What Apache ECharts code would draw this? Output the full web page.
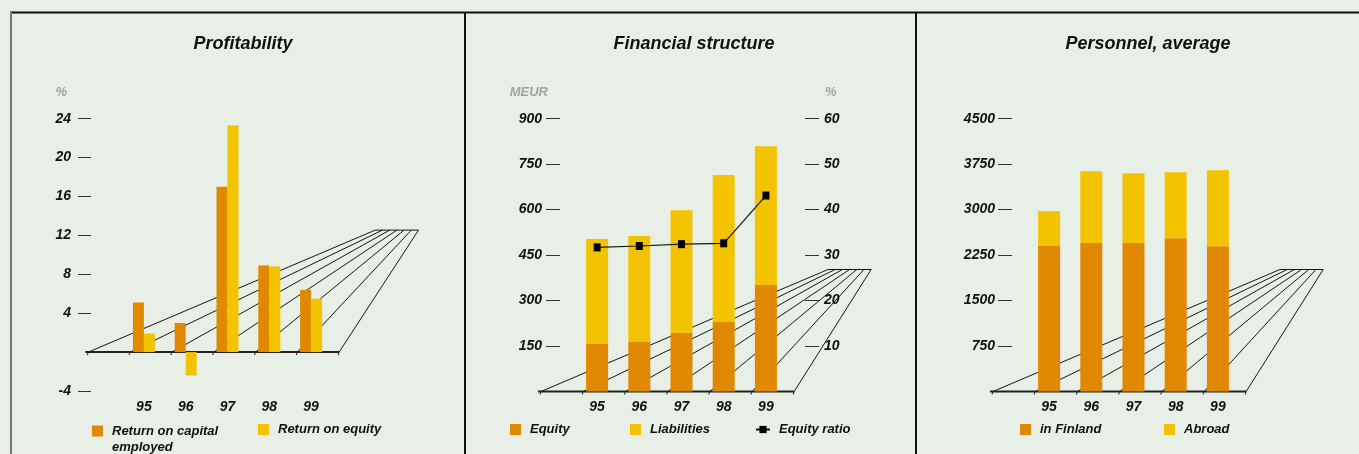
<!DOCTYPE html>
<html>
<head>
<meta charset="utf-8">
<script src="https://cdn.jsdelivr.net/npm/echarts@6/dist/echarts.min.js"></script>
<style>
html,body{margin:0;padding:0;background:#e7efe6;}
#chart{width:1359px;height:454px;}
</style>
</head>
<body>
<div id="chart"></div>
<script>
// ---- data ----
const categories = ['95', '96', '97', '98', '99'];
const returnOnCapital = [5.1, 3.0, 17.0, 8.9, 6.4];
const returnOnEquity = [1.9, -2.4, 23.3, 8.8, 5.5];
const equity = [157, 163, 193, 229, 351];
const liabilities = [346, 350, 405, 485, 458];
const equityRatio = [31.7, 32.0, 32.4, 32.6, 43.1];
const inFinland = [2400, 2448, 2448, 2530, 2398];
const abroad = [575, 1186, 1154, 1088, 1253];
const profitTicks = [-4, 4, 8, 12, 16, 20, 24];
const meurTicks = [150, 300, 450, 600, 750, 900];
const ratioTicks = [10, 20, 30, 40, 50, 60];
const personnelTicks = [750, 1500, 2250, 3000, 3750, 4500];

// ---- styles ----
const ORANGE = '#e08900';
const YELLOW = '#f3c300';
const FONT = 'Liberation Sans, Arial, sans-serif';
const txt = (size, color) => ({fontFamily: FONT, fontWeight: 'bold', fontStyle: 'italic', fontSize: size, color: color || '#111'});
const FLOOR = {depth: 122, backShift: 287, backStep: 7.2, firstTick: -1.33};

function floorRender(params, api) {
  if (params.dataIndex !== 0) return;
  const c = api.coord([0, 0]);
  const bw = api.size([1, 0])[0];
  const y0 = c[1];
  const yb = y0 - FLOOR.depth;
  const children = [];
  const front = [], back = [];
  for (let k = 0; k <= 6; k++) {
    front.push(c[0] + (k + FLOOR.firstTick) * bw);
  }
  for (let k = 0; k <= 6; k++) back.push(front[0] + FLOOR.backShift + k * FLOOR.backStep);
  const ls = {stroke: '#161616', lineWidth: 1};
  for (let k = 0; k <= 6; k++) {
    children.push({type: 'line', shape: {x1: front[k], y1: y0, x2: back[k], y2: yb}, style: ls});
    children.push({type: 'line', shape: {x1: front[k], y1: y0, x2: front[k] - 1, y2: y0 + 3}, style: ls});
  }
  children.push({type: 'line', shape: {x1: back[0], y1: yb, x2: back[6], y2: yb}, style: ls});
  children.push({type: 'line', shape: {x1: front[0] - 3, y1: y0, x2: front[6], y2: y0}, style: {stroke: '#222', lineWidth: 2}});
  return {type: 'group', children: children};
}

function yAxisCfg(gridIndex, min, max, interval, ticks, pos, offset, margin, tickLen, name, namePad) {
  return {
    type: 'value', gridIndex: gridIndex, min: min, max: max, interval: interval,
    position: pos, offset: offset,
    splitLine: {show: false},
    axisLine: {show: false},
    axisTick: {show: true, length: tickLen, customValues: ticks, lineStyle: {color: '#333', width: 1}},
    axisLabel: {customValues: ticks, margin: margin, formatter: v => String(v), ...txt(14)},
    name: name, nameLocation: 'end', nameGap: 20,
    nameTextStyle: Object.assign(txt(13, '#a3a3a3'), namePad)
  };
}
function xAxisCfg(gridIndex) {
  return {
    type: 'category', gridIndex: gridIndex, data: categories,
    axisLine: {show: false, onZero: false}, axisTick: {show: false},
    axisLabel: {margin: 9, ...txt(14)}
  };
}
function legendCfg(name, left, top, extra) {
  return Object.assign({
    data: [name], left: left, top: top, orient: 'horizontal',
    itemWidth: 11, itemHeight: 11, icon: 'rect', padding: 0,
    textStyle: Object.assign(txt(13), {padding: [0, 0, 0, 4]})
  }, extra || {});
}

const chart = echarts.init(document.getElementById('chart'), null, {renderer: 'canvas'});
const option = {
  backgroundColor: '#e7efe6',
  animation: false,
  title: [
    {text: 'Profitability', left: 243, top: 35, textAlign: 'center', padding: 0, textStyle: txt(18)},
    {text: 'Financial structure', left: 694, top: 35, textAlign: 'center', padding: 0, textStyle: txt(18)},
    {text: 'Personnel, average', left: 1148, top: 35, textAlign: 'center', padding: 0, textStyle: txt(18)}
  ],
  grid: [
    {left: 123, right: 1027, top: 118.7, bottom: 63},
    {left: 576, right: 572, top: 118.7, bottom: 62.5},
    {left: 1028, right: 120, top: 118.7, bottom: 62.5}
  ],
  xAxis: [xAxisCfg(0), xAxisCfg(1), xAxisCfg(2)],
  yAxis: [
    yAxisCfg(0, -4, 24, 4, profitTicks, 'left', 32, 20, 13, '%', {align: 'right', padding: [0, 24, 0, 0]}),
    yAxisCfg(1, 0, 900, 150, meurTicks, 'left', 16, 18, 14, 'MEUR', {align: 'right', padding: [0, 12, 0, 0]}),
    yAxisCfg(1, 0, 60, 10, ratioTicks, 'right', 18, 19, 14, '%', {align: 'left', padding: [0, 0, 0, 20]}),
    yAxisCfg(2, 0, 4500, 750, personnelTicks, 'left', 16, 17, 14, '', {})
  ],
  legend: [
    legendCfg('Return on capital\nemployed', 92, 407, {
      formatter: n => '\n' + n,
      textStyle: Object.assign(txt(13), {padding: [0, 0, 0, 4], lineHeight: 16})}),
    legendCfg('Return on equity', 258, 423),
    legendCfg('Equity', 510, 423),
    legendCfg('Liabilities', 630, 423),
    legendCfg('Equity ratio', 755, 423, {icon: null, itemWidth: 14, itemHeight: 9}),
    legendCfg('in Finland', 1020, 423),
    legendCfg('Abroad', 1164, 423)
  ],
  graphic: [
    {type: 'line', shape: {x1: 10, y1: 12.5, x2: 1359, y2: 12.5}, style: {stroke: '#111', lineWidth: 2}, z: 10},
    {type: 'line', shape: {x1: 11, y1: 12, x2: 11, y2: 454}, style: {stroke: '#777', lineWidth: 2}, z: 10},
    {type: 'line', shape: {x1: 465, y1: 12, x2: 465, y2: 454}, style: {stroke: '#111', lineWidth: 2}, z: 10},
    {type: 'line', shape: {x1: 916, y1: 12, x2: 916, y2: 454}, style: {stroke: '#111', lineWidth: 2}, z: 10}
  ],
  series: [
    {type: 'custom', xAxisIndex: 0, yAxisIndex: 0, data: [[0, 0]], renderItem: floorRender, clip: false, z: 1, silent: true},
    {type: 'custom', xAxisIndex: 1, yAxisIndex: 1, data: [[0, 0]], renderItem: floorRender, clip: false, z: 1, silent: true},
    {type: 'custom', xAxisIndex: 2, yAxisIndex: 3, data: [[0, 0]], renderItem: floorRender, clip: false, z: 1, silent: true},
    {name: 'Return on capital\nemployed', type: 'bar', xAxisIndex: 0, yAxisIndex: 0, data: returnOnCapital,
      barWidth: 11, barGap: '0%', itemStyle: {color: ORANGE}, z: 2},
    {name: 'Return on equity', type: 'bar', xAxisIndex: 0, yAxisIndex: 0, data: returnOnEquity,
      barWidth: 11, barGap: '0%', itemStyle: {color: YELLOW}, z: 2},
    {name: 'Equity', type: 'bar', stack: 'fs', xAxisIndex: 1, yAxisIndex: 1, data: equity,
      barWidth: 22, itemStyle: {color: ORANGE}, z: 2},
    {name: 'Liabilities', type: 'bar', stack: 'fs', xAxisIndex: 1, yAxisIndex: 1, data: liabilities,
      barWidth: 22, itemStyle: {color: YELLOW}, z: 2},
    {name: 'Equity ratio', type: 'line', xAxisIndex: 1, yAxisIndex: 2, data: equityRatio,
      symbol: 'rect', symbolSize: [7, 8], lineStyle: {color: '#151515', width: 1.2},
      itemStyle: {color: '#000'}, z: 5},
    {name: 'in Finland', type: 'bar', stack: 'ps', xAxisIndex: 2, yAxisIndex: 3, data: inFinland,
      barWidth: 22, itemStyle: {color: ORANGE}, z: 2},
    {name: 'Abroad', type: 'bar', stack: 'ps', xAxisIndex: 2, yAxisIndex: 3, data: abroad,
      barWidth: 22, itemStyle: {color: YELLOW}, z: 2}
  ]
};
chart.setOption(option);
</script>
</body>
</html>
